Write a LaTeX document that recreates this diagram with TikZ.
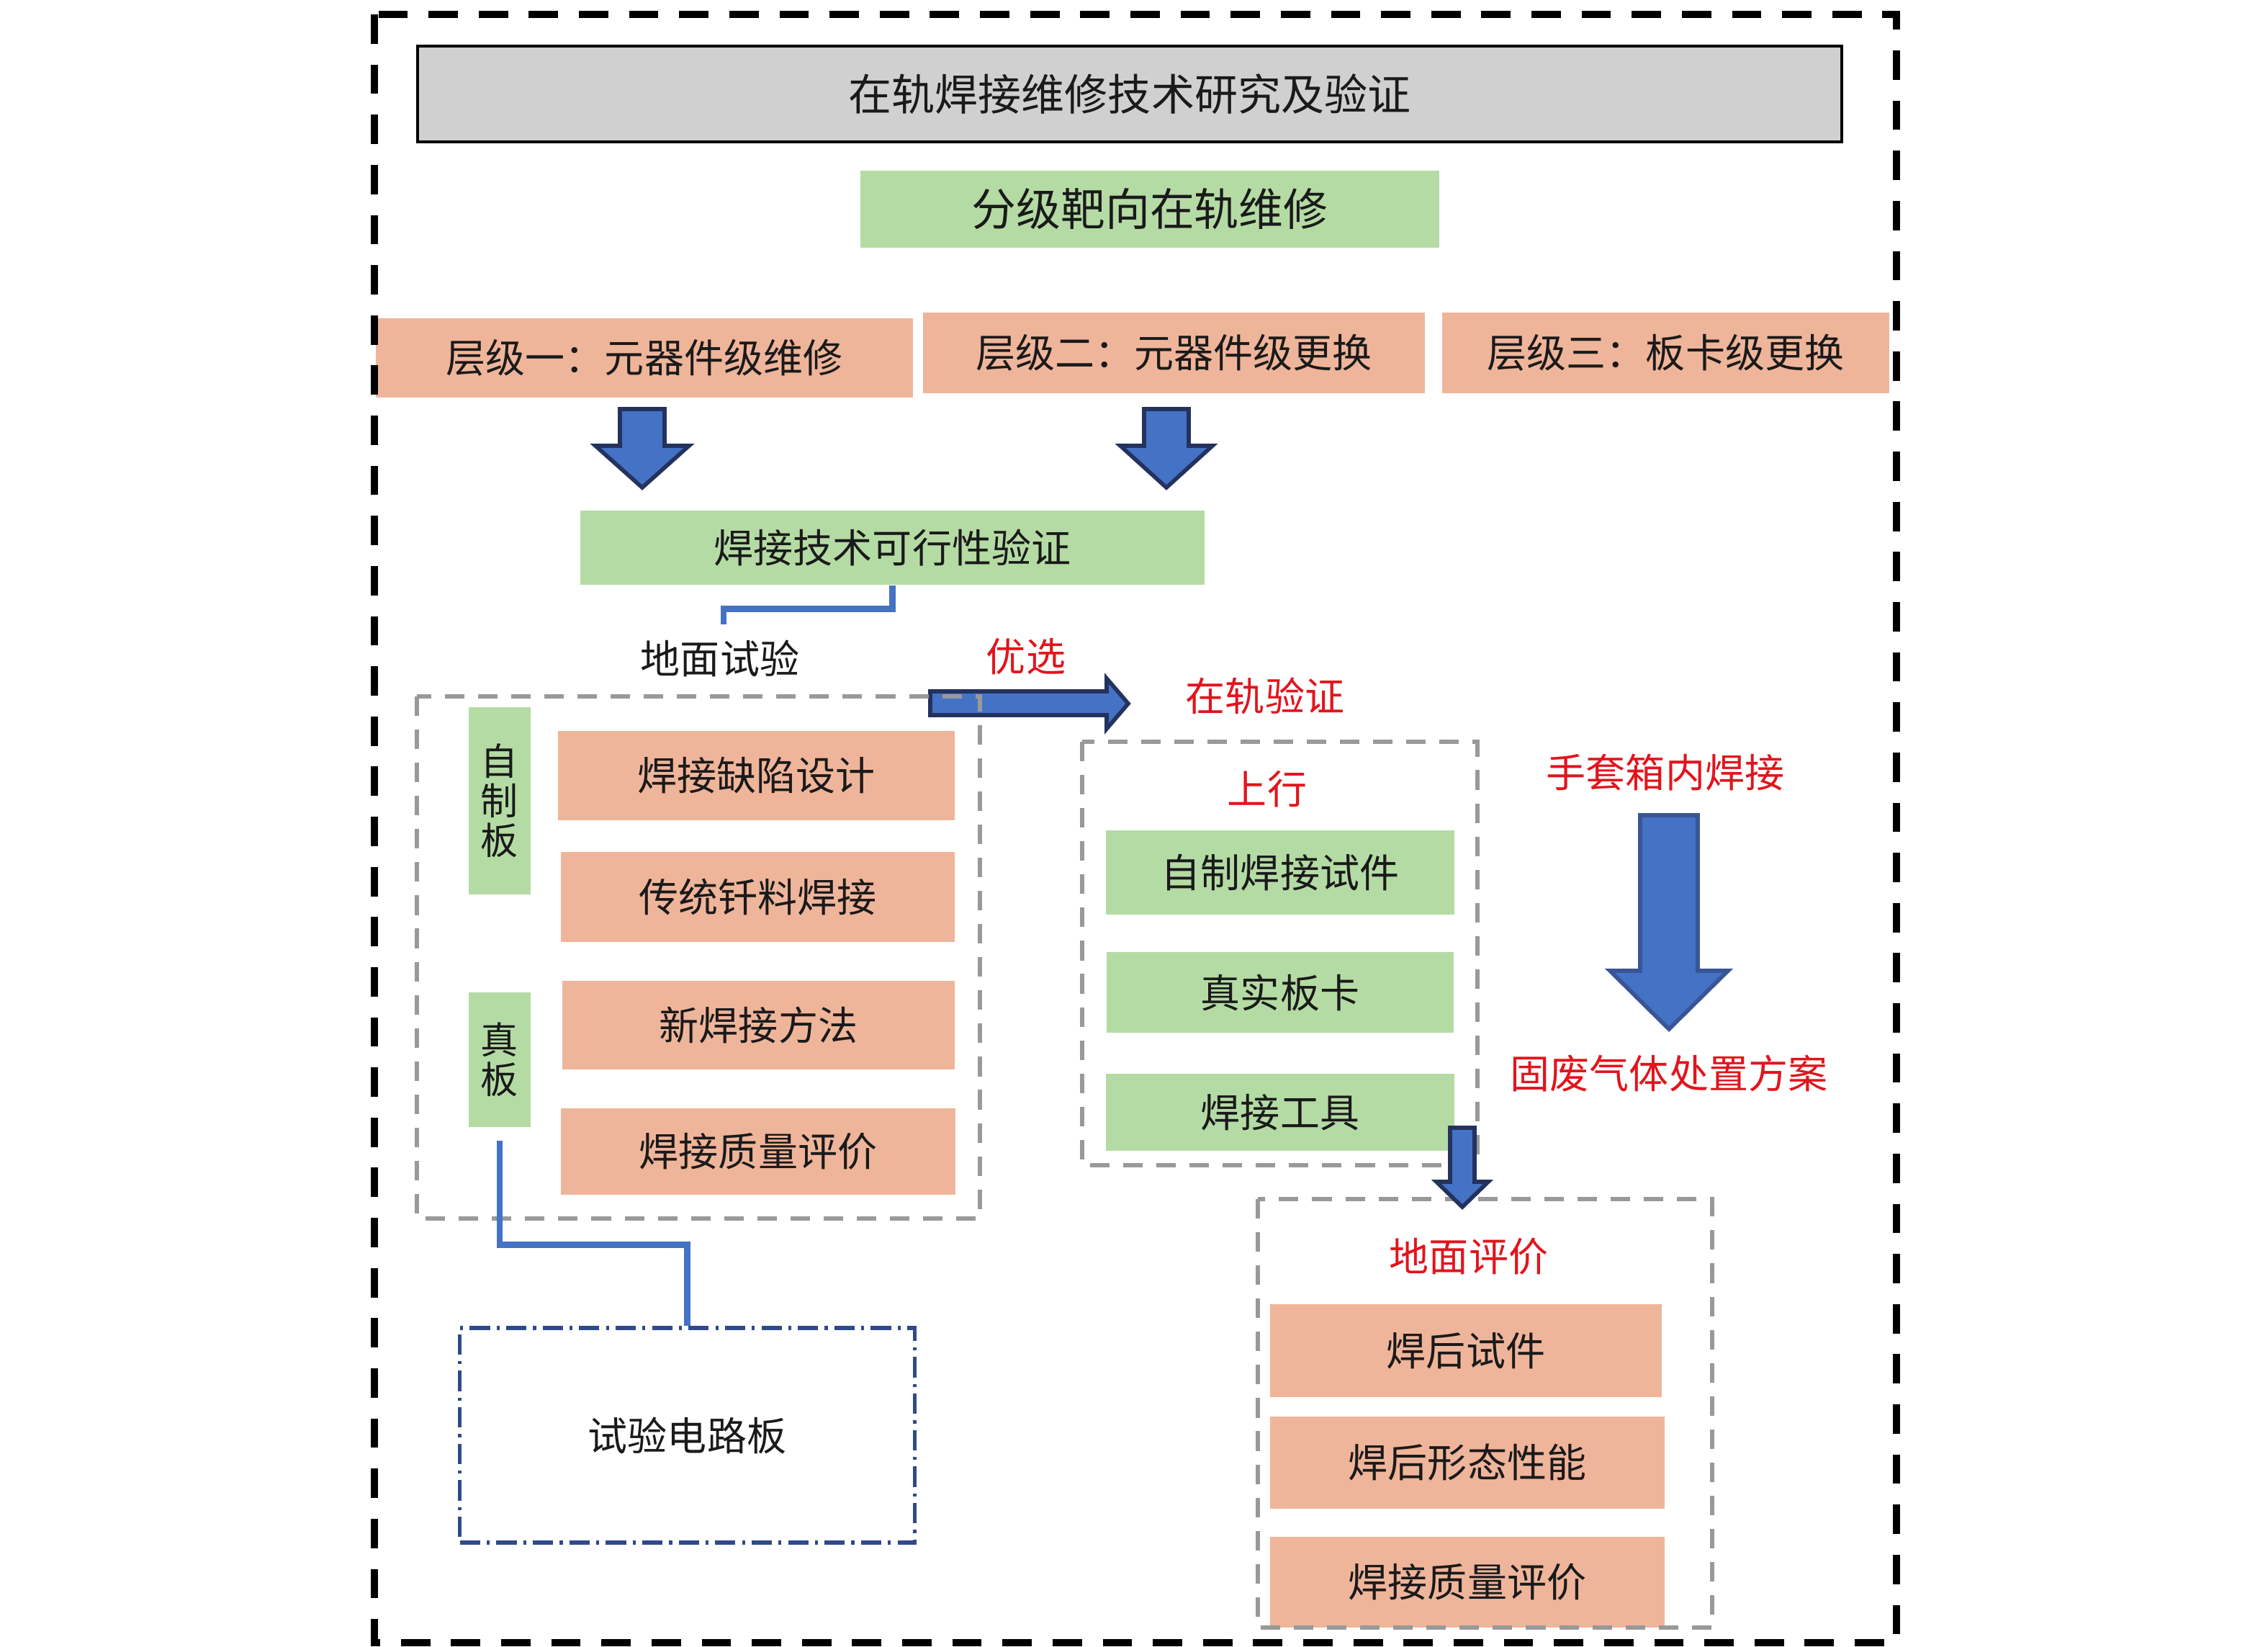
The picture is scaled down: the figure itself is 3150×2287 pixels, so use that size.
\documentclass[tikz,border=0pt]{standalone}
\usepackage{fontspec}
\newfontfamily\cjk{Noto Sans CJK SC}
\definecolor{gfill}{HTML}{B5DBA4}
\definecolor{sfill}{HTML}{EFB59A}
\definecolor{tfill}{HTML}{D0D0D0}
\definecolor{ablue}{HTML}{4472C4}
\definecolor{aedge}{HTML}{24325E}
\definecolor{aedgeb}{HTML}{3A5595}
\definecolor{redtxt}{HTML}{E2141C}
\definecolor{dgray}{HTML}{999999}
\definecolor{navy}{HTML}{2F4A8A}
\definecolor{txt}{HTML}{1A1A1A}
\newcommand\fatdown[7][aedge]{%
  \draw[fatarrow, draw=#1] (#2-#6,#3) -- (#2+#6,#3) -- (#2+#6,#4) -- (#2+#7,#4) -- (#2,#5) -- (#2-#7,#4) -- (#2-#6,#4) -- cycle;}
\begin{document}
\begin{tikzpicture}[x=0.01cm,y=-0.01cm,
  basefont/.style={font=\cjk\fontsize{15.65}{18}\selectfont},
  box/.style={basefont, inner sep=0pt, text=txt, anchor=center},
  gbox/.style={box, fill=gfill},
  sbox/.style={box, fill=sfill},
  tbox/.style={box, fill=tfill, draw=black, line width=1.1pt, font=\cjk\fontsize{17.07}{20}\selectfont},
  lbl/.style={basefont, inner sep=0pt, text=txt},
  rlbl/.style={basefont, inner sep=0pt, text=redtxt},
  vtext/.style={align=center, font=\cjk\fontsize{14.8}{15.6}\selectfont},
  grpbox/.style={draw=dgray, line width=1.6pt, dash pattern=on 7.7pt off 5.4pt},
  outerbox/.style={draw=black, line width=2.85pt, dash pattern=on 11.6pt off 8.2pt},
  conn/.style={draw=ablue, line width=2.5pt},
  fatarrow/.style={fill=ablue, line width=1.6pt, line join=miter},
  circbox/.style={box, draw=navy, line width=1.5pt, dash pattern=on 8pt off 2.6pt on 1.2pt off 2.6pt}
]
\useasboundingbox (0,0) rectangle (3150,2287);

% top
\node[tbox, minimum width=19.76cm, minimum height=1.33cm] (title) at (1569,130.5) {在轨焊接维修技术研究及验证};
\node[gbox, font=\cjk\fontsize{17.6}{20}\selectfont, minimum width=8.04cm, minimum height=1.07cm] (fenji) at (1597,290.5) {分级靶向在轨维修};
\node[sbox, minimum width=7.46cm, minimum height=1.10cm] (L1) at (895,497) {层级一：元器件级维修};
\node[sbox, minimum width=6.97cm, minimum height=1.12cm] (L2) at (1630.5,490) {层级二：元器件级更换};
\node[sbox, minimum width=6.21cm, minimum height=1.12cm] (L3) at (2313.5,490) {层级三：板卡级更换};

% down arrows
\fatdown{892}{568}{619}{677}{31}{65}
\fatdown{1620}{568}{619}{677}{31}{64}

\node[gbox, minimum width=8.67cm, minimum height=1.03cm] (feas) at (1239.5,760.5) {焊接技术可行性验证};

% ground test
\node[lbl] (gt) at (1000,914) {地面试验};
\coordinate (gtop) at (1005,867);
\draw[conn] (feas.south) -- ++(0,33) -| (gtop);

\node[gbox, vtext, minimum width=0.86cm, minimum height=2.60cm] (zzb) at (694,1112) {自\\制\\板};
\node[gbox, vtext, minimum width=0.86cm, minimum height=1.87cm] (zb) at (694,1471.5) {真\\板};
\node[sbox, minimum width=5.51cm, minimum height=1.24cm] (b1) at (1050.5,1077) {焊接缺陷设计};
\node[sbox, minimum width=5.47cm, minimum height=1.25cm] (b2) at (1052.5,1245.5) {传统钎料焊接};
\node[sbox, minimum width=5.45cm, minimum height=1.23cm] (b3) at (1053.5,1423.5) {新焊接方法};
\node[sbox, minimum width=5.48cm, minimum height=1.20cm] (b4) at (1053,1599) {焊接质量评价};

% preferred arrow
\node[rlbl] (yx) at (1425,912) {优选};
\draw[fatarrow, draw=aedge] (1292,960) -- (1537,960) -- (1537,942) -- (1567,977) -- (1537,1012) -- (1537,993) -- (1292,993) -- cycle;
\draw[grpbox] (579,967) rectangle (1361,1692);

\node[circbox, minimum width=6.31cm, minimum height=2.98cm] (circuit) at (954.5,1993) {试验电路板};
\draw[conn] ([yshift=-0.18cm]zb.south) -- ++(0,145) -| (circuit.north);

% on-orbit verification
\node[rlbl] (zgyz) at (1757,966) {在轨验证};
\node[rlbl] (sx) at (1760,1096) {上行};
\node[gbox, minimum width=4.84cm, minimum height=1.17cm] (g1) at (1778,1211.5) {自制焊接试件};
\node[gbox, minimum width=4.82cm, minimum height=1.12cm] (g2) at (1778,1378) {真实板卡};
\node[gbox, minimum width=4.84cm, minimum height=1.07cm] (g3) at (1778,1544.5) {焊接工具};
\draw[grpbox] (1503,1030) rectangle (2052,1618);

% ground evaluation
\node[rlbl] (dmpj) at (2040,1745) {地面评价};
\node[sbox, minimum width=5.44cm, minimum height=1.29cm] (r1) at (2036,1875.5) {焊后试件};
\node[sbox, minimum width=5.48cm, minimum height=1.28cm] (r2) at (2038,2031) {焊后形态性能};
\node[sbox, minimum width=5.48cm, minimum height=1.26cm] (r3) at (2038,2197) {焊接质量评价};
\draw[grpbox] (1747,1665) rectangle (2378,2260);
\fatdown{2031}{1566}{1641}{1676}{17}{36}

% glovebox
\node[rlbl] (stx) at (2313,1073) {手套箱内焊接};
\fatdown[aedgeb]{2318}{1132}{1348}{1429}{40}{82}
\node[rlbl] (gf) at (2318,1491) {固废气体处置方案};

% outer frame
\draw[outerbox] (520,20) rectangle (2634,2281);
\end{tikzpicture}
\end{document}
